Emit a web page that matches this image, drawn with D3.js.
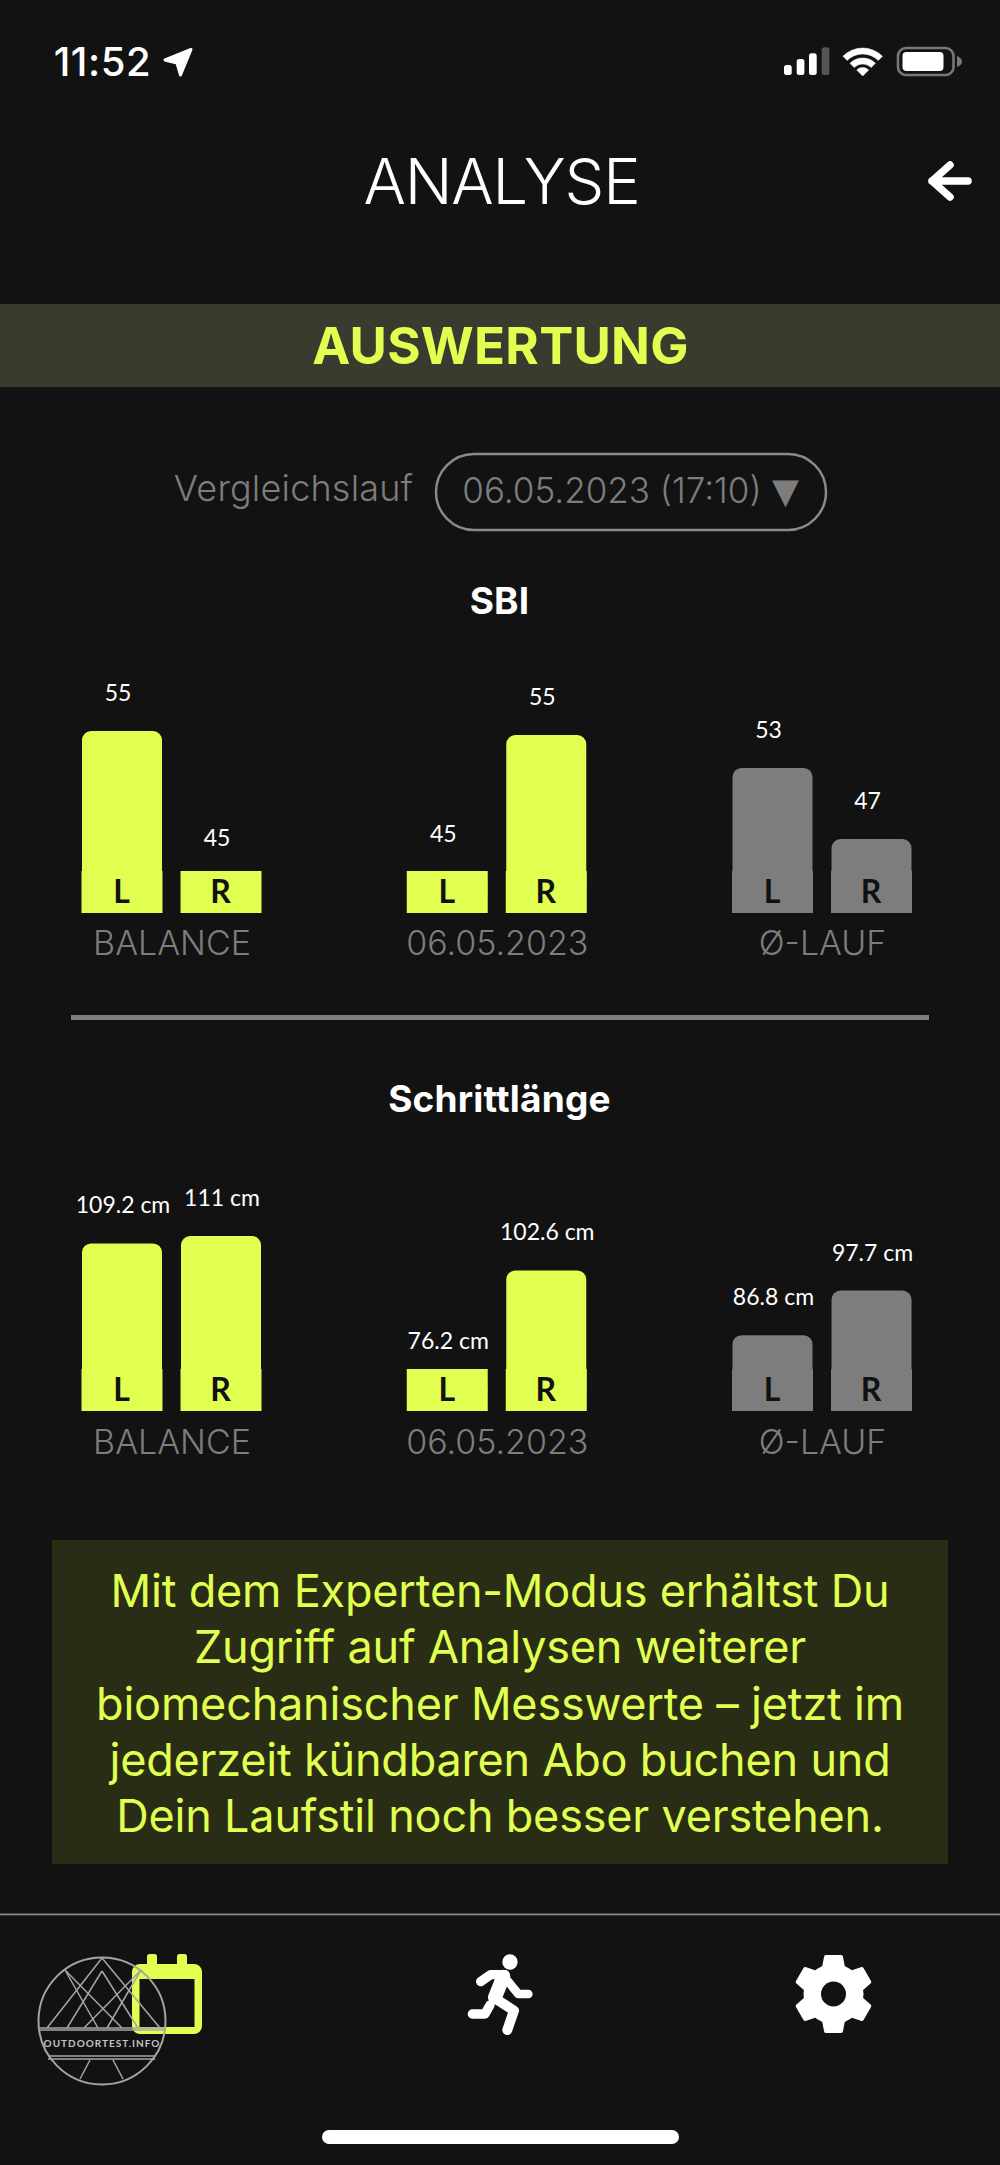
<!DOCTYPE html>
<html lang="de">
<head>
<meta charset="utf-8">
<title>Analyse</title>
<script src="https://d3js.org/d3.v7.min.js"></script>
<style>
  html, body { margin: 0; background: #121212; }
  svg { display: block; }
</style>
</head>
<body>
<svg id="chart" width="1000" height="2165"></svg>
<script>
// values read off the screenshot; SBI decimals are estimated from bar heights
const categories = ['BALANCE', '06.05.2023', 'Ø-LAUF'];
const sides = ['L', 'R'];
const sbiLeft = [55.3, 45, 52.6];
const sbiRight = [44.7, 55, 47.4];
const stepLeft = [109.2, 76.2, 86.8];
const stepRight = [111, 102.6, 97.7];
const promoLines = [
  'Mit dem Experten-Modus erhältst Du',
  'Zugriff auf Analysen weiterer',
  'biomechanischer Messwerte – jetzt im',
  'jederzeit kündbaren Abo buchen und',
  'Dein Laufstil noch besser verstehen.'
];

const LIME = '#e0ff50';
const GREY = '#7d7d7d';
const BG = '#121212';
const UI_FONT = 'Inter, Roboto, sans-serif';
const LABEL_FONT = 'Lato, sans-serif';

const svg = d3.select('#chart');
svg.append('rect').attr('width', 1000).attr('height', 2165).attr('fill', BG);

function label(parent, txt, x, y, size, weight, fill, spacing) {
  return parent.append('text')
    .attr('x', x).attr('y', y)
    .attr('text-anchor', 'middle')
    .attr('font-family', UI_FONT)
    .attr('font-size', size)
    .attr('font-weight', weight)
    .attr('letter-spacing', spacing || 0)
    .attr('fill', fill)
    .text(txt);
}

// status bar
const status = svg.append('g');
label(status, '11:52', 102.5, 76, 40, 500, '#fff', 0.6);
status.append('path')
  .attr('d', 'M191,49.5L165,60L177,63L180.5,75Z')
  .attr('fill', '#fff').attr('stroke', '#fff').attr('stroke-width', 3).attr('stroke-linejoin', 'round');

[[784, 65], [796.7, 59], [809, 53.3], [821.7, 47.3]].forEach((b, i) => {
  status.append('rect')
    .attr('x', b[0]).attr('y', b[1]).attr('width', 7.7).attr('height', 75 - b[1]).attr('rx', 2.5)
    .attr('fill', i === 3 ? '#555' : '#fff');
});
const wifiArc = d3.arc().startAngle(-Math.PI / 4).endAngle(Math.PI / 4);
const wifi = status.append('g').attr('transform', 'translate(862.7,76)').attr('fill', '#fff');
wifi.append('path').attr('d', wifiArc({ innerRadius: 22, outerRadius: 28 })).attr('stroke', '#fff').attr('stroke-width', 0.5);
wifi.append('path').attr('d', wifiArc({ innerRadius: 12, outerRadius: 18 })).attr('stroke', '#fff').attr('stroke-width', 0.5);
wifi.append('path').attr('d', wifiArc({ innerRadius: 0, outerRadius: 8.5 })).attr('stroke', '#fff').attr('stroke-width', 0.5);
status.append('rect').attr('x', 898).attr('y', 48).attr('width', 55.5).attr('height', 27).attr('rx', 8)
  .attr('fill', 'none').attr('stroke', '#777').attr('stroke-width', 2.6);
status.append('rect').attr('x', 902.5).attr('y', 52).attr('width', 41).attr('height', 19).attr('rx', 4).attr('fill', '#fff');
status.append('path').attr('d', 'M957,56Q962,58 962,61.5Q962,65 957,67Z').attr('fill', '#777');

// header
label(svg, 'ANALYSE', 501.5, 204, 63, 300, '#fff', -1.2);
svg.append('path')
  .attr('d', 'M950,165L932,181L950,197M932,181H968')
  .attr('fill', 'none').attr('stroke', '#fff').attr('stroke-width', 7.5)
  .attr('stroke-linecap', 'round').attr('stroke-linejoin', 'round');

svg.append('rect').attr('y', 304).attr('width', 1000).attr('height', 83).attr('fill', '#383c2e');
label(svg, 'AUSWERTUNG', 500.5, 364, 51, 700, LIME, 0.3);

// comparison run selector
label(svg, 'Vergleichslauf', 293.5, 501, 36, 300, GREY, 0.2);
svg.append('rect').attr('x', 436).attr('y', 454).attr('width', 390).attr('height', 76).attr('rx', 38)
  .attr('fill', 'none').attr('stroke', '#8a8a8a').attr('stroke-width', 2.5);
label(svg, '06.05.2023 (17:10)', 612, 503, 35, 300, GREY, 0);
svg.append('text').attr('x', 785.5).attr('y', 503).attr('text-anchor', 'middle')
  .attr('font-family', 'DejaVu Sans').attr('font-size', 35).attr('fill', GREY).text('▼');

// shared horizontal scales
const xGroup = d3.scalePoint().domain(categories).range([171.5, 822]);
const xSide = d3.scaleBand().domain(sides).range([-90, 90]).paddingInner(0.182);
const SQUARE = 42;

function drawChart(cfg) {
  const g = svg.append('g');
  const y = d3.scaleLinear().domain(cfg.domain).range(cfg.range);
  const baseY = cfg.range[0];

  const rows = [];
  categories.forEach((c, i) => {
    rows.push({ cat: c, idx: i, side: 'L', value: cfg.left[i] });
    rows.push({ cat: c, idx: i, side: 'R', value: cfg.right[i] });
  });
  const barX = d => xGroup(d.cat) + xSide(d.side);
  const color = d => d.idx === 2 ? GREY : LIME;
  const w = xSide.bandwidth();

  // rounded bar, its foot hidden behind the square that carries L / R
  g.selectAll('.bar').data(rows).join('rect')
    .attr('class', 'bar')
    .attr('x', d => barX(d) + 0.5)
    .attr('y', d => y(d.value))
    .attr('width', w - 1)
    .attr('height', d => Math.max(0, baseY - 10 - y(d.value)))
    .attr('rx', 9)
    .attr('fill', color);

  g.selectAll('.foot').data(rows).join('rect')
    .attr('class', 'foot')
    .attr('x', barX)
    .attr('y', baseY - SQUARE)
    .attr('width', w)
    .attr('height', SQUARE)
    .attr('fill', color);

  g.selectAll('.side').data(rows).join('text')
    .attr('class', 'side')
    .attr('x', d => barX(d) + w / 2 - 0.5)
    .attr('y', baseY - 10)
    .attr('text-anchor', 'middle')
    .attr('font-family', LABEL_FONT)
    .attr('font-size', 32)
    .attr('font-weight', 700)
    .attr('fill', '#111')
    .text(d => d.side);

  g.selectAll('.value').data(rows).join('text')
    .attr('class', 'value')
    .attr('x', d => barX(d) + w / 2 + cfg.labelDx)
    .attr('y', d => y(d.value) - 30)
    .attr('text-anchor', 'middle')
    .attr('font-family', LABEL_FONT)
    .attr('font-size', 23)
    .attr('fill', '#fff')
    .text(d => cfg.format(d.value));

  const axis = g.append('g')
    .attr('transform', `translate(0,${baseY})`)
    .call(d3.axisBottom(xGroup).tickSize(0));
  axis.select('.domain').remove();
  axis.selectAll('text')
    .attr('y', cfg.axisY)
    .attr('dy', 0)
    .attr('font-family', UI_FONT)
    .attr('font-size', 34)
    .attr('font-weight', 300)
    .attr('fill', GREY);

  label(g, cfg.title, 499.5, cfg.titleY, 37, 700, '#fff', 0.2);
}

drawChart({
  title: 'SBI', titleY: 614,
  left: sbiLeft, right: sbiRight,
  domain: [42, 55.3], range: [913, 731],
  format: d3.format('.0f'), labelDx: -4, axisY: 42
});

svg.append('rect').attr('x', 71).attr('y', 1015).attr('width', 858).attr('height', 5).attr('fill', GREY);

drawChart({
  title: 'Schrittlänge', titleY: 1112,
  left: stepLeft, right: stepRight,
  domain: [68.3, 111], range: [1411, 1236],
  format: d => `${d} cm`, labelDx: 1, axisY: 43
});

// promo box
svg.append('rect').attr('x', 52).attr('y', 1540).attr('width', 896).attr('height', 324).attr('fill', '#2a2d15');
svg.selectAll('.promo').data(promoLines).join('text')
  .attr('class', 'promo')
  .attr('x', 500)
  .attr('y', (d, i) => 1607 + i * 56.25)
  .attr('text-anchor', 'middle')
  .attr('font-family', UI_FONT)
  .attr('font-size', 45)
  .attr('font-weight', 400)
  .attr('letter-spacing', -0.2)
  .attr('fill', LIME)
  .text(d => d);

// tab bar
svg.append('rect').attr('y', 1913.5).attr('width', 1000).attr('height', 1.8).attr('fill', '#8a8a8a');

const cal = svg.append('g').attr('fill', LIME);
cal.append('rect').attr('x', 147).attr('y', 1954).attr('width', 10).attr('height', 18).attr('rx', 2.5);
cal.append('rect').attr('x', 177).attr('y', 1954).attr('width', 10).attr('height', 18).attr('rx', 2.5);
cal.append('path').attr('fill-rule', 'evenodd')
  .attr('d', 'M140,1964H194a8,8 0 0 1 8,8V2026a8,8 0 0 1 -8,8H140a8,8 0 0 1 -8,-8V1972a8,8 0 0 1 8,-8Z' +
             'M139.5,1979V2027H194.5V1979Z');

// watermark logo
const logo = svg.append('g').attr('fill', 'none').attr('stroke', '#a5a5a5').attr('stroke-width', 1.5);
logo.append('circle').attr('cx', 102).attr('cy', 2021).attr('r', 63.5).attr('stroke-width', 2);
logo.append('path').attr('d',
  'M102,1958L47,2028M102,1958L160,2028M102,1971L67,2028M102,1971L138,2028' +
  'M65,1970L122,2028M65,1970L98,2028M141,1970L84,2028M141,1970L107,2028' +
  'M40,2028H164M40,2030H164M48,2056H155M48,2059H155' +
  'M90,2060L80,2079M113,2060L123,2079');
svg.append('text')
  .attr('x', 102).attr('y', 2047)
  .attr('text-anchor', 'middle')
  .attr('font-family', LABEL_FONT)
  .attr('font-size', 10)
  .attr('font-weight', 700)
  .attr('letter-spacing', 1)
  .attr('fill', '#c4c4c4')
  .text('OUTDOORTEST.INFO');

// runner icon, sketched at 3x of its pixel box
const run = svg.append('g').attr('transform', 'translate(450,1940) scale(0.3333)')
  .attr('fill', 'none').attr('stroke', '#fff').attr('stroke-linecap', 'round').attr('stroke-linejoin', 'round');
run.append('circle').attr('cx', 180).attr('cy', 66).attr('r', 23).attr('fill', '#fff').attr('stroke', 'none');
run.append('path').attr('d', 'M92,125L122,104L165,104').attr('stroke-width', 28);
run.append('path').attr('d', 'M160,110L135,172').attr('stroke-width', 42);
run.append('path').attr('d', 'M175,125L205,162L235,162').attr('stroke-width', 26);
run.append('path').attr('d', 'M135,175L192,212L172,270').attr('stroke-width', 30);
run.append('path').attr('d', 'M67,222L105,222L120,195').attr('stroke-width', 28);

// settings gear
const gear = svg.append('g').attr('transform', 'translate(833.5,1994)').attr('fill', '#fff');
gear.append('circle').attr('r', 30);
d3.range(6).forEach(i => {
  gear.append('path')
    .attr('transform', `rotate(${i * 60})`)
    .attr('d', 'M-12,-24L-9.5,-37Q-9.5,-39 -7.5,-39H7.5Q9.5,-39 9.5,-37L12,-24Z');
});
gear.append('circle').attr('r', 12.5).attr('fill', BG);

// home indicator
svg.append('rect').attr('x', 322).attr('y', 2130).attr('width', 357).attr('height', 14).attr('rx', 7).attr('fill', '#fff');
</script>
</body>
</html>
